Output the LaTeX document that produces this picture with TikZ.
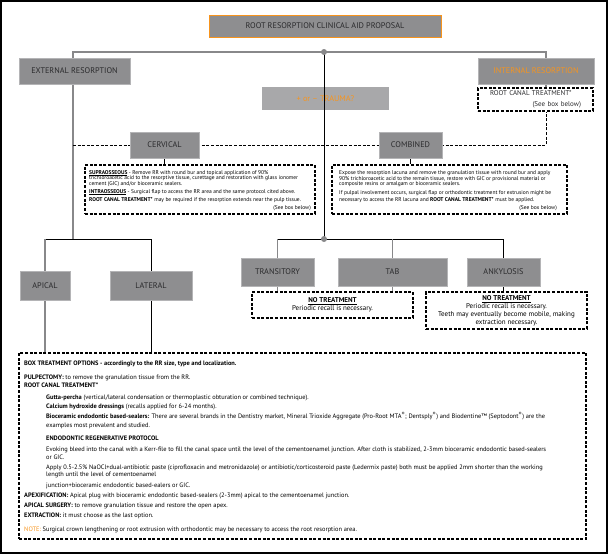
\documentclass[tikz,border=0pt]{standalone}
\usepackage{fontspec}
\setmainfont{PT Sans}
\usetikzlibrary{positioning,backgrounds,calc}
\definecolor{boxgray}{HTML}{8E8E90}
\definecolor{lightbox}{HTML}{A8A8AA}
\definecolor{rimgray}{HTML}{B4B4B6}
\definecolor{linegray}{HTML}{88888A}
\definecolor{orng}{HTML}{F7941D}
\definecolor{txtgray}{HTML}{2A2A2C}
\tikzset{
  graybox/.style={fill=boxgray,draw=rimgray,line width=0.8pt,text=txtgray,
    font=\fontsize{8.2}{9}\selectfont,inner sep=0pt},
  dashbox/.style={draw=black,line width=1.1pt,dash pattern=on 3pt off 1.6pt,inner sep=0pt},
  treeline/.style={draw=linegray,line width=1.6pt},
  blackline/.style={draw=black,line width=1pt},
  dashline/.style={draw=black,line width=1pt,dash pattern=on 3pt off 1.6pt},
  boxline/.style={anchor=base west,inner sep=0pt,text=black,font=\fontsize{6.4}{7}\selectfont},
  smallline/.style={anchor=base west,inner sep=0pt,text=black,font=\fontsize{5.5}{6}\selectfont}
}
\begin{document}
\begin{tikzpicture}[x=1pt,y=-1pt]
\useasboundingbox (0,0) rectangle (612,554);
\draw[line width=1.2pt] (1,1) rectangle (607,553);

% top level
\node[graybox,draw=orng,minimum width=232,minimum height=22] (title) at (325,26) {ROOT RESORPTION CLINICAL AID PROPOSAL};
\node[graybox,minimum width=111,minimum height=26] (ext) at (74.5,71) {EXTERNAL RESORPTION};
\node[graybox,text=orng,minimum width=116,minimum height=26] (int) at (536,71) {INTERNAL RESORPTION};
\node[dashbox,minimum width=115,minimum height=23,text width=91,align=left,font=\fontsize{7}{10.5}\selectfont,text=txtgray] (rct) at (535.5,99.5) {ROOT CANAL TREATMENT*\\\hfill(See box below)};
\node[graybox,fill=lightbox,draw=none,text=orng,minimum width=127,minimum height=23] (trauma) at (325.5,98.5) {+ or -- TRAUMA?};

% external resorption
\node[graybox,minimum width=69,minimum height=26] (cerv) at (164.5,145) {CERVICAL};
\node[graybox,minimum width=63,minimum height=26] (comb) at (410.5,145) {COMBINED};
\node[dashbox,minimum width=230,minimum height=49] (cervbox) at (200,189.5) {};
\node[dashbox,minimum width=235,minimum height=49] (combbox) at (449.5,189.5) {};
\node[graybox,minimum width=50,minimum height=29] (apical) at (45,285.5) {APICAL};
\node[graybox,minimum width=82,minimum height=29] (lateral) at (151,285.5) {LATERAL};

% other resorptions
\node[graybox,minimum width=73,minimum height=28] (trans) at (277.5,272) {TRANSITORY};
\node[graybox,minimum width=109,minimum height=28] (tab) at (392.5,272) {TAB};
\node[graybox,minimum width=73,minimum height=28] (anky) at (503.5,272) {ANKYLOSIS};
\node[dashbox,minimum width=161,minimum height=26,align=center,font=\fontsize{7}{8}\selectfont] (none1) at (332.5,305) {\underline{\textbf{NO TREATMENT}}\\Periodic recall is necessary.};
\node[dashbox,minimum width=161,minimum height=37,align=center,font=\fontsize{7}{8}\selectfont] (none2) at (506.5,310.5) {\underline{\textbf{NO TREATMENT}}\\Periodic recall is necessary.\\Teeth may eventually become mobile, making\\extraction necessary.};

\node[dashbox,minimum width=567,minimum height=186] (big) at (302.5,446) {};

% junctions
\coordinate (topdot) at (324,52);
\coordinate (ltop) at (73,52);
\coordinate (rtop) at (546,52);
\coordinate (lefttee) at (73,239);
\coordinate (rightdot) at (324,239);

\begin{scope}[on background layer]
\draw[treeline] (lefttee) -- (ltop) -- (rtop) -- (rtop |- int.north);
\draw[treeline] (rtop |- int.south) -- (rtop |- rct.north);
\draw[dashline] (lefttee |- cerv.west) -- (rtop |- cerv.west) -- (rtop |- rct.south);
\draw[blackline] (cerv.south) -- (cerv.south |- cervbox.north);
\draw[blackline] (comb.south) -- (comb.south |- combbox.north);
\draw[blackline] (apical.north |- lefttee) -- (lateral.north |- lefttee);
\draw[treeline] (apical.north |- lefttee) -- (apical.south |- big.north);
\draw[blackline] (lateral.north |- lefttee) -- (lateral.south |- big.north);
\draw[blackline] (trans.north |- rightdot) -- (anky.north |- rightdot);
\draw[treeline] (trans.north |- rightdot) -- (trans.north);
\draw[treeline] (tab.north |- rightdot) -- (tab.north);
\draw[blackline] (anky.north |- rightdot) -- (anky.north);
\draw[treeline] (trans.south) -- (trans.south |- none1.north);
\draw[treeline] (tab.south) -- (tab.south |- none1.north);
\draw[blackline] (anky.south) -- (anky.south |- none2.north);
\end{scope}
\draw[blackline] (topdot) -- (rightdot);
\fill[linegray] (topdot) circle (3pt);
\fill[linegray] (rightdot) circle (3pt);

% cervical text
\node[smallline] (c1) at (89,174) {\underline{\textbf{SUPRAOSSEOUS}} - Remove RR with round bur and topical application of 90\%};
\node[smallline] (c2) at (89,179.7) {trichloroacetic acid to the resorptive tissue, curettage and restoration with glass ionomer};
\node[smallline] (c3) at (89,185.2) {cement (GIC) and/or bioceramic sealers.};
\node[smallline] (c4) at (89,193) {\underline{\textbf{INTRAOSSEOUS}} - Surgical flap to access the RR area and the same protocol cited above.};
\node[smallline] (c5) at (89,201) {\textbf{ROOT CANAL TREATMENT*} may be required if the resorption extends near the pulp tissue.};
\node[smallline,anchor=base east] (c6) at (311,209) {(See box below)};

% combined text
\node[smallline] (m1) at (339,174.5) {Expose the resorption lacuna and remove the granulation tissue with round bur and apply};
\node[smallline] (m2) at (339,180) {90\% trichloroacetic acid to the remain tissue, restore with GIC or provisional material or};
\node[smallline] (m3) at (339,185.5) {composite resins or amalgam or bioceramic sealers.};
\node[smallline] (m4) at (339,194) {If pulpal involvement occurs, surgical flap or orthodontic treatment for extrusion might be};
\node[smallline] (m5) at (339,201) {necessary to access the RR lacuna and \textbf{ROOT CANAL TREATMENT*} must be applied.};
\node[smallline,anchor=base east] (m6) at (557,209) {(See box below)};

% treatment options box
\node[boxline] (t1) at (24,365) {\textbf{BOX TREATMENT OPTIONS - accordingly to the RR size, type and localization.}};
\node[boxline] (t2) at (24,379) {\textbf{PULPECTOMY:} to remove the granulation tissue from the RR.};
\node[boxline] (t3) at (24,387) {\textbf{ROOT CANAL TREATMENT*}};
\node[boxline] (t4) at (46,399) {\textbf{Gutta-percha} (vertical/lateral condensation or thermoplastic obturation or combined technique).};
\node[boxline] (t5) at (46,408) {\textbf{Calcium hydroxide dressings} (recalls applied for 6-24 months).};
\node[boxline] (t6) at (46,418) {\textbf{Bioceramic endodontic based-sealers:} There are several brands in the Dentistry market, Mineral Trioxide Aggregate (Pro-Root MTA\textsuperscript{\textregistered}; Dentsply\textsuperscript{\textregistered}) and Biodentine\texttrademark{} (Septodont\textsuperscript{\textregistered}) are the};
\node[boxline] (t7) at (46,427) {examples most prevalent and studied.};
\node[boxline] (t8) at (46,440) {\textbf{ENDODONTIC REGENERATIVE PROTOCOL}};
\node[boxline] (t9) at (46,451) {Evoking bleed into the canal with a Kerr-file to fill the canal space until the level of the cementoenamel junction. After cloth is stabilized, 2-3mm bioceramic endodontic based-sealers};
\node[boxline] (t10) at (46,459) {or GIC.};
\node[boxline] (t11) at (46,469) {Apply 0.5-2.5\% NaOCl+dual-antibiotic paste (ciprofloxacin and metronidazole) or antibiotic/corticosteroid paste (Ledermix paste) both must be applied 2mm shorter than the working};
\node[boxline] (t12) at (46,476) {length until the level of cementoenamel};
\node[boxline] (t13) at (46,487) {junction+bioceramic endodontic based-ealers or GIC.};
\node[boxline] (t14) at (24,497) {\textbf{APEXIFICATION:} Apical plug with bioceramic endodontic based-sealers (2-3mm) apical to the cementoenamel junction.};
\node[boxline] (t15) at (24,507) {\textbf{APICAL SURGERY:} to remove granulation tissue and restore the open apex.};
\node[boxline] (t16) at (24,517) {\textbf{EXTRACTION:} it must choose as the last option.};
\node[boxline] (t17) at (24,531) {{\color{orng}NOTE:} Surgical crown lengthening or root extrusion with orthodontic may be necessary to access the root resorption area.};
\end{tikzpicture}
\end{document}
